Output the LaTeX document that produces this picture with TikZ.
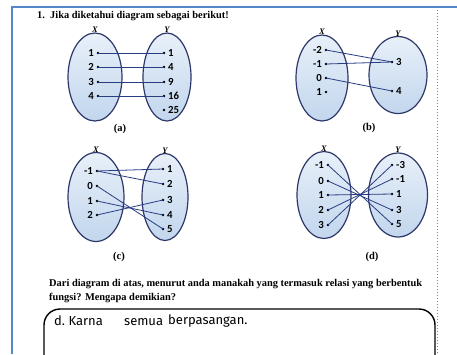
\documentclass[tikz,border=0pt]{standalone}
\usepackage{fontspec}
\setmainfont{Liberation Serif}
\newfontfamily\numfont{Carlito}
\newfontfamily\handfont{Fira Sans}
\usetikzlibrary{shapes.geometric}
\definecolor{framecol}{RGB}{85,135,200}
\definecolor{ellcol}{RGB}{45,55,105}
\definecolor{linecol}{RGB}{40,60,130}
\definecolor{filltop}{RGB}{232,240,249}
\definecolor{fillbot}{RGB}{194,214,237}
\newcommand\xdot[3]{\coordinate (#1) at #2; \fill (#1) circle (1.3); \node[num,anchor=east,xshift=-4pt] (#1l) at (#1) {#3};}
\newcommand\ydot[3]{\coordinate (#1) at #2; \fill (#1) circle (1.3); \node[num,anchor=west,xshift=4pt] (#1l) at (#1) {#3};}
\begin{document}
\begin{tikzpicture}[x=1pt,y=-1pt,
  setshape/.style={ellipse, draw=ellcol, line width=1.2pt, top color=filltop, bottom color=fillbot, inner sep=0pt},
  num/.style={font=\numfont\bfseries\fontsize{10.8}{11}\selectfont, inner sep=0pt},
  setlab/.style={font=\itshape\bfseries\fontsize{8.5}{9}\selectfont, inner sep=0pt},
  edge/.style={draw=linecol, line width=0.8pt},
  capt/.style={font=\bfseries\fontsize{10.5}{11}\selectfont, inner sep=0pt},
  body/.style={font=\bfseries\fontsize{10.4}{12}\selectfont, inner sep=0pt, anchor=west},
  hand/.style={font=\handfont\fontsize{13}{14}\selectfont, inner sep=0pt, anchor=west}]
\useasboundingbox (0,0) rectangle (457,354);
\clip (0,0) rectangle (457,354);
% frame
\draw[framecol, line width=1.5pt] (12,354) -- (12,7) -- (457,7);
\draw[gray, line width=1pt, dotted] (437,7) -- (437,354);
% title
\node[body] (title) at (37,16) {1.\ \ Jika diketahui diagram sebagai berikut!};
% ---------- (a)
\node[setshape, minimum width=54pt, minimum height=88pt] (aX) at (95,77) {};
\node[setshape, minimum width=48pt, minimum height=88pt] (aY) at (167,77) {};
\node[setlab, anchor=south] (aXl) at ([yshift=-0.5pt]aX.north) {X};
\node[setlab, anchor=south] (aYl) at ([yshift=-0.5pt]aY.north) {Y};
\xdot{ax1}{(98,53)}{1}
\xdot{ax2}{(98,67)}{2}
\xdot{ax3}{(98,82)}{3}
\xdot{ax4}{(98,96)}{4}
\ydot{ay1}{(164,53)}{1}
\ydot{ay2}{(164,67)}{4}
\ydot{ay3}{(164,82)}{9}
\ydot{ay4}{(164,96)}{16}
\ydot{ay5}{(164,110)}{25}
\draw[edge] (ax1) -- (ay1);
\draw[edge] (ax2) -- (ay2);
\draw[edge] (ax3) -- (ay3);
\draw[edge] (ax4) -- (ay4);
\node[capt] (capa) at (120,129) {(a)};
% ---------- (b)
\node[setshape, minimum width=52pt, minimum height=86pt] (bX) at (322,78) {};
\node[setshape, minimum width=58pt, minimum height=77pt] (bY) at (398,75) {};
\node[setlab, anchor=south] (bXl) at ([yshift=-0.5pt]bX.north) {X};
\node[setlab, anchor=south] (bYl) at ([yshift=-0.5pt]bY.north) {Y};
\xdot{bx1}{(326,50)}{-2}
\xdot{bx2}{(326,64)}{-1}
\xdot{bx3}{(326,78)}{0}
\xdot{bx4}{(326,92)}{1}
\ydot{by1}{(392,62)}{3}
\ydot{by2}{(392,91)}{4}
\draw[edge] (bx1) -- (by1);
\draw[edge] (bx2) -- (by1);
\draw[edge] (bx3) -- (by2);
\node[capt] (capb) at (369,128) {(b)};
% ---------- (c)
\node[setshape, minimum width=56pt, minimum height=89pt] (cX) at (96,197) {};
\node[setshape, minimum width=46pt, minimum height=87pt] (cY) at (165,197) {};
\node[setlab, anchor=south] (cXl) at ([yshift=-0.5pt]cX.north) {X};
\node[setlab, anchor=south] (cYl) at ([yshift=-0.5pt]cY.north) {Y};
\xdot{cx1}{(97,171)}{-1}
\xdot{cx2}{(97,186)}{0}
\xdot{cx3}{(97,201)}{1}
\xdot{cx4}{(97,215)}{2}
\ydot{cy1}{(163,169)}{1}
\ydot{cy2}{(163,184)}{2}
\ydot{cy3}{(163,200)}{3}
\ydot{cy4}{(163,215)}{4}
\ydot{cy5}{(163,229)}{5}
\draw[edge] (cx1) -- (cy1);
\draw[edge] (cx1) -- (cy2);
\draw[edge] (cx2) -- (cy5);
\draw[edge] (cx3) -- (cy4);
\draw[edge] (cx4) -- (cy3);
\node[capt] (capc) at (119,257) {(c)};
% ---------- (d)
\node[setshape, minimum width=54pt, minimum height=87pt] (dX) at (324,195) {};
\node[setshape, minimum width=59pt, minimum height=84pt] (dY) at (398,195) {};
\node[setlab, anchor=south] (dXl) at ([yshift=-0.5pt]dX.north) {X};
\node[setlab, anchor=south] (dYl) at ([yshift=-0.5pt]dY.north) {Y};
\xdot{dx1}{(328,165)}{-1}
\xdot{dx2}{(328,181)}{0}
\xdot{dx3}{(328,195)}{1}
\xdot{dx4}{(328,210)}{2}
\xdot{dx5}{(328,225)}{3}
\ydot{dy1}{(392,165)}{-3}
\ydot{dy2}{(392,179)}{-1}
\ydot{dy3}{(392,194)}{1}
\ydot{dy4}{(392,210)}{3}
\ydot{dy5}{(392,224)}{5}
\draw[edge] (dx1) -- (dy5);
\draw[edge] (dx2) -- (dy4);
\draw[edge] (dx3) -- (dy3);
\draw[edge] (dx4) -- (dy2);
\draw[edge] (dx5) -- (dy1);
\node[capt] (capd) at (372,257) {(d)};
% ---------- question
\node[body] (q1) at (49,284) {Dari diagram di atas, menurut anda manakah yang termasuk relasi yang berbentuk};
\node[body] (q2) at (49,298) {fungsi? Mengapa demikian?};
\draw[black, line width=1.4pt, rounded corners=16pt] (44,400) -- (44,309) -- (435,309) -- (435,400);
\node[hand] (h1) at (54,321) {d.\ Karna};
\node[hand] (h2) at (124,322) {semua};
\node[hand] (h3) at (168,321) {berpasangan.};
\end{tikzpicture}
\end{document}
